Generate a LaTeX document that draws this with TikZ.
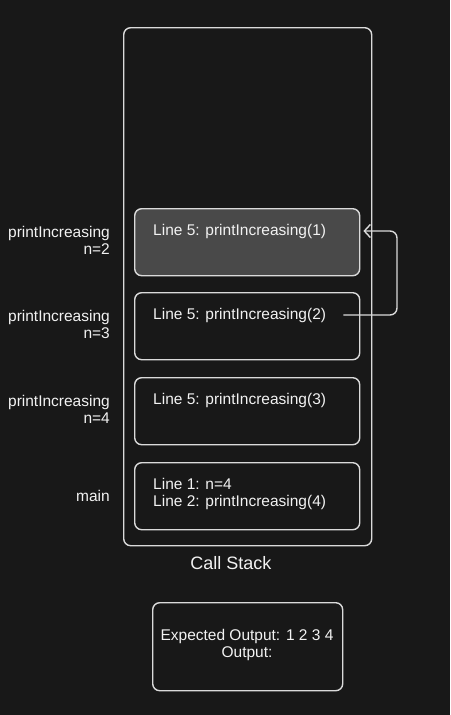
\documentclass[tikz,border=0pt]{standalone}
\usepackage{fontspec}
\setmainfont{Liberation Sans}
\usetikzlibrary{arrows.meta}

\definecolor{bgdark}{HTML}{181818}
\definecolor{lineclr}{HTML}{DADADA}
\definecolor{activefill}{HTML}{494949}
\definecolor{textclr}{HTML}{F2F2F2}

\tikzset{
    stackbox/.style={draw=lineclr, line width=1.4pt, rounded corners=7pt},
    framebox/.style={draw=lineclr, line width=1.4pt, rounded corners=7pt,
        minimum width=225pt, minimum height=67pt, inner sep=0pt, anchor=north west},
    codeline/.style={text=textclr, anchor=west, inner sep=0pt, align=left,
        font=\fontsize{15.5}{17}\selectfont},
    framelabel/.style={text=textclr, anchor=east, inner sep=0pt, align=right,
        font=\fontsize{15.5}{17}\selectfont},
    callarrow/.style={draw=lineclr, line width=1.4pt, rounded corners=7pt,
        -{Straight Barb[length=6pt, width=13pt, line width=1.4pt]}},
}

\begin{document}
\begin{tikzpicture}[x=1pt, y=-1pt]
    \fill[bgdark] (0,0) rectangle (450,715);
    \useasboundingbox (0,0) rectangle (450,715);

    % call stack
    \node[stackbox, minimum width=248pt, minimum height=518pt, anchor=north west] (stack) at (123,27) {};
    \node[text=textclr, font=\fontsize{18}{20}\selectfont] (stacktitle) at (231,563) {Call Stack};

    % frames
    \node[framebox, fill=activefill] (f1) at (134,208) {};
    \node[framebox] (f2) at (134,292) {};
    \node[framebox] (f3) at (134,377) {};
    \node[framebox] (f4) at (134,462) {};

    \node[codeline] (t1) at (153,231) {Line 5: printIncreasing(1)};
    \node[codeline] (t2) at (153,315) {Line 5: printIncreasing(2)};
    \node[codeline] (t3) at (153,400) {Line 5: printIncreasing(3)};
    \node[codeline] (t4) at (153,494) {Line 1: n=4\\Line 2: printIncreasing(4)};

    \node[framelabel] (l1) at (110,240) {printIncreasing\\n=2};
    \node[framelabel] (l2) at (110,324) {printIncreasing\\n=3};
    \node[framelabel] (l3) at (110,409) {printIncreasing\\n=4};
    \node[framelabel] (l4) at (110,496) {main};

    % return arrow
    \coordinate (retstart) at ([xshift=17pt]t2.east);
    \coordinate (retend) at ([xshift=3pt]f1.east |- t1.center);
    \draw[callarrow] (retstart) -| (397,231) -- (retend);

    % output
    \node[stackbox, minimum width=190pt, minimum height=88pt, anchor=north west] (outbox) at (152,602) {};
    \node[text=textclr, align=center, inner sep=0pt, font=\fontsize{15.5}{17}\selectfont] (outtext) at (247,645)
        {Expected Output: 1 2 3 4\\Output:};
\end{tikzpicture}
\end{document}
